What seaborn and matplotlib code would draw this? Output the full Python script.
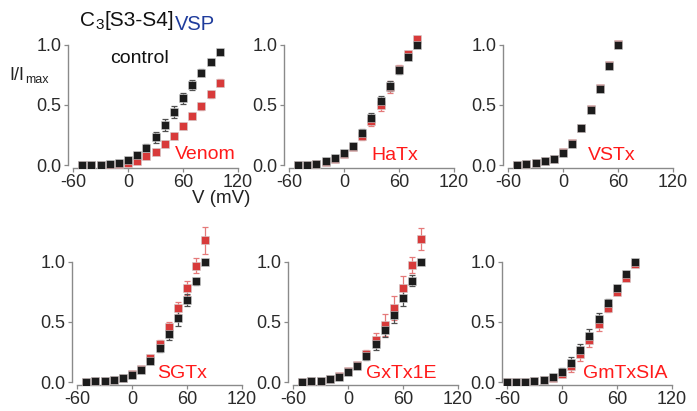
import matplotlib
matplotlib.use("Agg")
import matplotlib.pyplot as plt
import seaborn as sns
import pandas as pd

# ---- data ----
v_venom = [-50, -40, -30, -20, -10, 0, 10, 20, 30, 40, 50, 60, 70, 80, 90, 100]
ctl_venom = [0.0, 0.0, 0.0, 0.01, 0.02, 0.04, 0.08, 0.145, 0.23, 0.33, 0.445, 0.555, 0.665, 0.77, 0.86, 0.945]
ctl_venom_err = [0, 0, 0, 0, 0.005, 0.01, 0.015, 0.03, 0.045, 0.05, 0.05, 0.045, 0.04, 0.03, 0.02, 0.01]
tox_venom = [0.0, 0.0, 0.0, 0.0, 0.005, 0.015, 0.035, 0.075, 0.11, 0.175, 0.245, 0.325, 0.41, 0.49, 0.59, 0.685]
tox_venom_err = [0, 0, 0, 0, 0, 0.005, 0.01, 0.01, 0.015, 0.015, 0.02, 0.02, 0.025, 0.03, 0.03, 0.03]

v_hatx = [-50, -40, -30, -20, -10, 0, 10, 20, 30, 40, 50, 60, 70, 80]
ctl_hatx = [0.0, 0.0, 0.01, 0.03, 0.055, 0.1, 0.16, 0.265, 0.39, 0.53, 0.66, 0.79, 0.9, 1.0]
ctl_hatx_err = [0, 0, 0, 0.005, 0.01, 0.015, 0.025, 0.035, 0.045, 0.045, 0.04, 0.03, 0.015, 0]
tox_hatx = [0.0, 0.0, 0.01, 0.025, 0.05, 0.095, 0.15, 0.24, 0.37, 0.5, 0.65, 0.8, 0.925, 1.05]
tox_hatx_err = [0, 0, 0, 0.005, 0.01, 0.015, 0.02, 0.035, 0.045, 0.05, 0.05, 0.035, 0.02, 0.01]

v_vstx = [-50, -40, -30, -20, -10, 0, 10, 20, 30, 40, 50, 60]
ctl_vstx = [0.0, 0.01, 0.02, 0.03, 0.05, 0.1, 0.175, 0.305, 0.46, 0.63, 0.825, 1.0]
ctl_vstx_err = [0, 0, 0, 0, 0.005, 0.005, 0.01, 0.015, 0.015, 0.015, 0.01, 0]
tox_vstx = [0.0, 0.01, 0.02, 0.03, 0.05, 0.105, 0.18, 0.31, 0.47, 0.64, 0.835, 1.01]
tox_vstx_err = [0, 0, 0, 0, 0.005, 0.005, 0.01, 0.01, 0.01, 0.01, 0.01, 0.01]

v_sgtx = [-50, -40, -30, -20, -10, 0, 10, 20, 30, 40, 50, 60, 70, 80]
ctl_sgtx = [0.0, 0.005, 0.01, 0.015, 0.03, 0.055, 0.1, 0.175, 0.28, 0.4, 0.53, 0.685, 0.84, 1.0]
ctl_sgtx_err = [0, 0, 0, 0, 0.005, 0.01, 0.01, 0.02, 0.03, 0.05, 0.06, 0.05, 0.03, 0.01]
tox_sgtx = [0.0, 0.005, 0.01, 0.02, 0.035, 0.065, 0.11, 0.2, 0.32, 0.46, 0.615, 0.785, 0.97, 1.18]
tox_sgtx_err = [0, 0, 0, 0, 0.005, 0.01, 0.01, 0.02, 0.03, 0.04, 0.05, 0.06, 0.065, 0.11]

v_gxtx = [-50, -40, -30, -20, -10, 0, 10, 20, 30, 40, 50, 60, 70, 80]
ctl_gxtx = [0.0, 0.005, 0.01, 0.025, 0.045, 0.085, 0.135, 0.215, 0.315, 0.435, 0.56, 0.7, 0.845, 1.0]
ctl_gxtx_err = [0, 0, 0, 0, 0.005, 0.01, 0.015, 0.03, 0.05, 0.06, 0.07, 0.07, 0.045, 0.01]
tox_gxtx = [0.0, 0.005, 0.01, 0.025, 0.05, 0.09, 0.14, 0.235, 0.35, 0.475, 0.62, 0.785, 0.975, 1.19]
tox_gxtx_err = [0, 0, 0, 0, 0.005, 0.01, 0.015, 0.03, 0.06, 0.09, 0.1, 0.1, 0.07, 0.09]

v_gmtx = [-60, -50, -40, -30, -20, -10, 0, 10, 20, 30, 40, 50, 60, 70, 80]
ctl_gmtx = [0.0, 0.0, 0.0, 0.005, 0.02, 0.04, 0.085, 0.16, 0.27, 0.385, 0.525, 0.66, 0.78, 0.9, 1.0]
ctl_gmtx_err = [0, 0, 0, 0, 0.005, 0.01, 0.03, 0.05, 0.05, 0.06, 0.05, 0.03, 0.015, 0.01, 0]
tox_gmtx = [0.0, 0.0, 0.0, 0.005, 0.015, 0.035, 0.07, 0.135, 0.235, 0.35, 0.485, 0.62, 0.75, 0.87, 0.985]
tox_gmtx_err = [0, 0, 0, 0, 0.005, 0.01, 0.03, 0.05, 0.06, 0.06, 0.06, 0.04, 0.02, 0.01, 0.01]

x_ticks = [-60, 0, 60, 120]
y_ticks = [0.0, 0.5, 1.0]
y_ticklabels = ["0.0", "0.5", "1.0"]

# name, label pos (x, y), data, and pixel anchor (-60 tick x, 0.0 tick y)
panels = [
    ("Venom", (51, 0.09), v_venom, ctl_venom, ctl_venom_err, tox_venom, tox_venom_err, 73, 165),
    ("HaTx", (30, 0.075), v_hatx, ctl_hatx, ctl_hatx_err, tox_hatx, tox_hatx_err, 289, 165),
    ("VSTx", (27, 0.08), v_vstx, ctl_vstx, ctl_vstx_err, tox_vstx, tox_vstx_err, 508, 165),
    ("SGTx", (27, 0.075), v_sgtx, ctl_sgtx, ctl_sgtx_err, tox_sgtx, tox_sgtx_err, 77, 382),
    ("GxTx1E", (20, 0.075), v_gxtx, ctl_gxtx, ctl_gxtx_err, tox_gxtx, tox_gxtx_err, 293, 382),
    ("GmTxSIA", (23, 0.075), v_gmtx, ctl_gmtx, ctl_gmtx_err, tox_gmtx, tox_gmtx_err, 507, 382),
]

BLACK = "#1c1c1c"
RED = "#d83a3a"
BLACK_ERR = "#505050"
RED_ERR = "#e57a7a"
SPINE = "#8a8a8a"

sns.set_style("ticks")
plt.rcParams["font.family"] = ["Liberation Sans", "DejaVu Sans"]
plt.rcParams["axes.unicode_minus"] = False

W, H = 697, 411
fig = plt.figure(figsize=(W / 100, H / 100), dpi=100)

PX_PER_MV = 165 / 180.0
PX_PER_UNIT = 120.0
XLIM = (-65.5, 124)
YLIM = (-0.025, 1.3)

for name, (lx, ly), v, ctl, ctl_err, tox, tox_err, x0, y0 in panels:
    left_px = x0 - (-60 - XLIM[0]) * PX_PER_MV
    width_px = (XLIM[1] - XLIM[0]) * PX_PER_MV
    bottom_px = y0 + (0 - YLIM[0]) * PX_PER_UNIT
    height_px = (YLIM[1] - YLIM[0]) * PX_PER_UNIT
    ax = fig.add_axes([left_px / W, 1 - bottom_px / H, width_px / W, height_px / H])

    df = pd.concat([
        pd.DataFrame({"V": v, "I": tox, "err": tox_err, "cond": "toxin"}),
        pd.DataFrame({"V": v, "I": ctl, "err": ctl_err, "cond": "control"}),
    ], ignore_index=True)

    for cond, ecol in [("toxin", RED_ERR), ("control", BLACK_ERR)]:
        sub = df[df["cond"] == cond]
        ax.errorbar(sub["V"], sub["I"], yerr=sub["err"], fmt="none",
                    ecolor=ecol, elinewidth=0.9, capsize=2.5, capthick=0.9, zorder=2)
        sns.scatterplot(data=sub, x="V", y="I", color=BLACK if cond == "control" else RED,
                        marker="s", s=34, linewidth=0.4, edgecolor="#d0d0d0",
                        ax=ax, legend=False, zorder=3)

    ax.set_xlim(*XLIM)
    ax.set_ylim(*YLIM)
    ax.set_xticks(x_ticks)
    ax.set_yticks(y_ticks)
    ax.set_yticklabels(y_ticklabels)
    ax.set_xlabel("")
    ax.set_ylabel("")
    sns.despine(ax=ax)
    ax.spines["left"].set_bounds(0, 1)
    ax.spines["bottom"].set_bounds(-60, 120)
    for sp in ("left", "bottom"):
        ax.spines[sp].set_color(SPINE)
        ax.spines[sp].set_linewidth(1.0)
    ax.tick_params(direction="out", length=3, width=0.9, color=SPINE,
                   labelcolor="#2a2a2a", labelsize=13, pad=1.5)
    ax.patch.set_alpha(0)

    ax.text(lx, ly, name, color="#ff1a1a", fontsize=14, ha="left", va="center")
    if name == "Venom":
        ax.text(-20, 0.89, "control", color="#111111", fontsize=14, ha="left", va="center")


def fpos(x, y):
    return x / W, 1 - y / H


renderer = fig.canvas.get_renderer()

# axis labels on the first panel
t = fig.text(*fpos(9, 75), "I/I", fontsize=13, color="#222222", ha="left", va="center")
fig.text(*fpos(t.get_window_extent(renderer).x1 + 1, 80), "max", fontsize=9,
         color="#222222", ha="left", va="center")
fig.text(*fpos(221, 198), "V (mV)", fontsize=13.5, color="#222222", ha="center", va="center")

# construct title, each piece placed after the previous one
pieces = [("C", 15, 20, "#111111"), ("3", 11, 25, "#111111"),
          ("[S3-S4]", 15, 20, "#111111"), ("VSP", 14.5, 24, "#1f3c9c")]
x_px = 80
for txt, size, y_px, col in pieces:
    t = fig.text(*fpos(x_px, y_px), txt, fontsize=size, color=col, ha="left", va="center")
    x_px = t.get_window_extent(renderer).x1 + 0.5

fig.savefig("out.png", dpi=100)
